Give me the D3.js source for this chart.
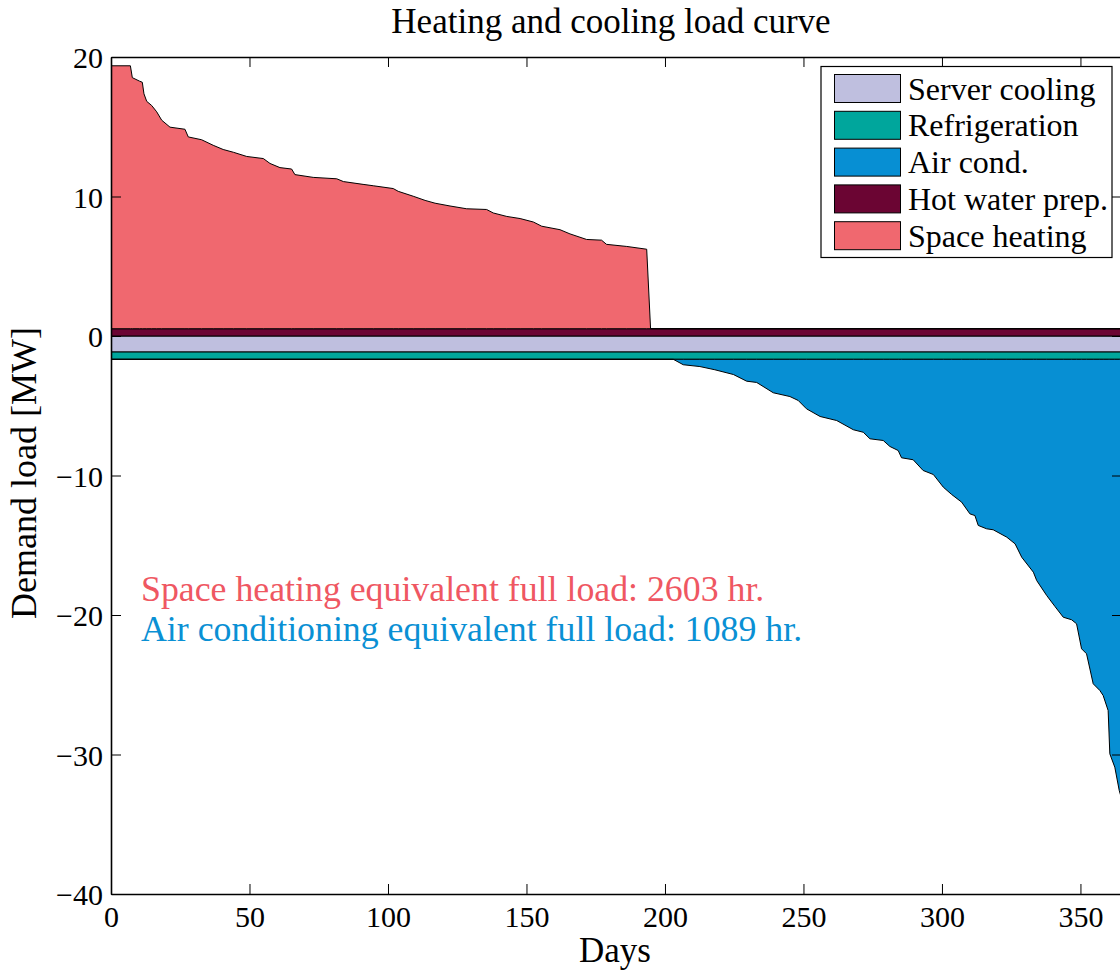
<!DOCTYPE html>
<html>
<head>
<meta charset="utf-8">
<script src="https://cdn.jsdelivr.net/npm/d3@7"></script>
<style>
  html, body { margin: 0; padding: 0; background: #fff; }
  svg { display: block; }
</style>
</head>
<body>
<svg id="chart" width="1120" height="973"></svg>
<script>
// ---- data -------------------------------------------------------------
// Constant loads [MW]
const hotWaterLoad = 0.52;
const serverCoolingLoad = 1.15;
const refrigerationLoad = 0.52;

// Space heating duration curve (sorted, days vs MW)
const heatDays = [0, 7, 7.7, 10.3, 11.3, 11.9, 12.9, 14.7, 16.5, 18.3, 21.3, 26.7, 27.9, 32.7, 36.9, 40.5, 44.2, 49, 55, 57.4, 61, 65.2, 66.4, 73, 81.5, 83.9, 91, 94.7, 101.9, 103.7, 109.1, 113.4, 117, 122.4, 128.4, 135.6, 138, 142.9, 147.7, 152.5, 155.5, 162.1, 165.7, 171.7, 177.1, 178.9, 186.2, 193.4, 194.8, 365];
const heatLoad = [18.85, 18.85, 18.0, 17.75, 17.67, 16.84, 16.3, 16.0, 15.55, 14.95, 14.45, 14.3, 13.75, 13.55, 13.15, 12.85, 12.65, 12.35, 12.2, 11.85, 11.55, 11.45, 11.05, 10.85, 10.75, 10.55, 10.35, 10.25, 10.05, 9.85, 9.5, 9.2, 9.0, 8.8, 8.6, 8.55, 8.3, 8.05, 7.9, 7.65, 7.35, 7.1, 6.8, 6.4, 6.35, 6.05, 5.9, 5.7, 0, 0];

// Air conditioning duration curve (days vs MW, drawn below zero)
const coolDays = [0, 203, 206.6, 212.6, 218, 224.7, 229.5, 233.1, 239.1, 245.1, 248.1, 251.1, 256, 262, 268, 271.6, 274, 278.8, 281.2, 284.2, 285.4, 289.6, 293.2, 296.9, 300.5, 303.5, 307.1, 310.1, 311.9, 313.1, 316.1, 318.5, 323.4, 326.4, 328.8, 333, 334.2, 337.8, 340.8, 343.8, 346.8, 348.6, 350.4, 352.2, 354.6, 357, 358.2, 360, 360.6, 362.4, 364, 365];
const coolLoad = [0, 0, 0.39, 0.52, 0.75, 1.09, 1.57, 1.66, 2.4, 2.67, 2.95, 3.55, 4.1, 4.39, 5.05, 5.23, 5.7, 5.82, 6.25, 6.54, 7.06, 7.2, 7.97, 8.26, 9.17, 9.69, 10.24, 11.08, 11.2, 11.91, 12.15, 12.22, 12.75, 13.23, 14.19, 15.26, 15.86, 16.93, 17.72, 18.49, 18.67, 18.96, 20.75, 21.11, 23.26, 23.74, 24.1, 25.18, 28.28, 29.24, 30.91, 31.6];

const xTicks = [0, 50, 100, 150, 200, 250, 300, 350];
const yTicks = [20, 10, 0, -10, -20, -30, -40];

const legendLabels = ["Server cooling", "Refrigeration", "Air cond.", "Hot water prep.", "Space heating"];
const legendColors = ["#bfbfdf", "#00a69c", "#078fd3", "#6b0533", "#f0686f"];

const annotations = [
  { text: "Space heating equivalent full load: 2603 hr.", color: "#ef5762" },
  { text: "Air conditioning equivalent full load: 1089 hr.", color: "#0a90d4" }
];

// ---- layout -----------------------------------------------------------
const FONT = "'Liberation Serif', 'Times New Roman', serif";
const plot = { left: 111, right: 1122, top: 57, bottom: 894 };
const svg = d3.select("#chart");

const x = d3.scaleLinear().domain([0, 365]).range([plot.left, plot.right]);
const y = d3.scaleLinear().domain([-40, 20]).range([plot.bottom, plot.top]);

svg.append("defs").append("clipPath").attr("id", "plotClip")
  .append("rect")
  .attr("x", plot.left).attr("y", plot.top)
  .attr("width", plot.right - plot.left).attr("height", plot.bottom - plot.top);

const g = svg.append("g").attr("clip-path", "url(#plotClip)");

const color = {
  server: legendColors[0], refrig: legendColors[1], air: legendColors[2],
  hotwater: legendColors[3], heating: legendColors[4]
};

function band(days, lo, hi) {
  return d3.area()
    .x((d, i) => x(days[i]))
    .y0((d, i) => y(lo(i)))
    .y1((d, i) => y(hi(i)))(days);
}

const span = [0, 365];
const coolBase = -(serverCoolingLoad + refrigerationLoad);

// Server cooling (0 .. -server)
g.append("path")
  .attr("d", band(span, () => 0, () => -serverCoolingLoad))
  .attr("fill", color.server).attr("stroke", "#000").attr("stroke-width", 1);

// Refrigeration (below server cooling)
g.append("path")
  .attr("d", band(span, () => -serverCoolingLoad, () => coolBase))
  .attr("fill", color.refrig).attr("stroke", "#000").attr("stroke-width", 1);

// Air conditioning (below refrigeration)
g.append("path")
  .attr("d", band(coolDays, () => coolBase, i => coolBase - coolLoad[i]))
  .attr("fill", color.air).attr("stroke", "#000").attr("stroke-width", 1);

// Hot water preparation (0 .. +hot water)
g.append("path")
  .attr("d", band(span, () => 0, () => hotWaterLoad))
  .attr("fill", color.hotwater).attr("stroke", "#000").attr("stroke-width", 1);

// Space heating (stacked on hot water)
g.append("path")
  .attr("d", band(heatDays, () => hotWaterLoad, i => hotWaterLoad + heatLoad[i]))
  .attr("fill", color.heating).attr("stroke", "#000").attr("stroke-width", 1);

// ---- axes (box with inward ticks) -------------------------------------
const tickLen = 10;
const axisG = svg.append("g");

axisG.append("g").attr("transform", `translate(0,${plot.bottom})`)
  .call(d3.axisBottom(x).tickValues(xTicks).tickSizeInner(-tickLen).tickSizeOuter(0).tickPadding(12));
axisG.append("g").attr("transform", `translate(0,${plot.top})`)
  .call(d3.axisTop(x).tickValues(xTicks).tickSizeInner(-tickLen).tickSizeOuter(0).tickFormat(""));
const yl = axisG.append("g").attr("transform", `translate(${plot.left},0)`)
  .call(d3.axisLeft(y).tickValues(yTicks).tickSizeInner(-tickLen).tickSizeOuter(0).tickPadding(8)
    .tickFormat(d => d < 0 ? "\u2212" + Math.abs(d) : String(d)));
axisG.append("g").attr("transform", `translate(${plot.right},0)`)
  .call(d3.axisRight(y).tickValues(yTicks).tickSizeInner(-tickLen).tickSizeOuter(0).tickFormat(""));

axisG.selectAll(".domain").attr("stroke", "#000").attr("stroke-width", 1.6);
axisG.selectAll(".tick line").attr("stroke", "#000").attr("stroke-width", 1);
axisG.selectAll(".tick text")
  .style("font-family", FONT)
  .style("font-size", "30px").style("fill", "#000");
yl.selectAll(".tick text").attr("dy", "0.35em");

// ---- titles -----------------------------------------------------------
svg.append("text")
  .attr("x", 611).attr("y", 33)
  .attr("text-anchor", "middle")
  .style("font-family", FONT).style("font-size", "35px")
  .text("Heating and cooling load curve");

svg.append("text")
  .attr("x", 615).attr("y", 962)
  .attr("text-anchor", "middle")
  .style("font-family", FONT).style("font-size", "35px")
  .text("Days");

svg.append("text")
  .attr("transform", "translate(36,473) rotate(-90)")
  .attr("text-anchor", "middle")
  .style("font-family", FONT).style("font-size", "36px")
  .text("Demand load [MW]");

// ---- annotations ------------------------------------------------------
svg.selectAll("text.note").data(annotations).enter().append("text")
  .attr("class", "note")
  .attr("x", 141).attr("y", (d, i) => 601 + i * 39.5)
  .style("font-family", FONT).style("font-size", "35.8px")
  .style("fill", d => d.color)
  .text(d => d.text);

// ---- legend -----------------------------------------------------------
const legend = svg.append("g");
legend.append("rect")
  .attr("x", 821).attr("y", 66.5).attr("width", 291).attr("height", 191)
  .attr("fill", "#fff").attr("stroke", "#000").attr("stroke-width", 1.2);

const rows = legend.selectAll("g.row").data(legendLabels).enter().append("g")
  .attr("class", "row")
  .attr("transform", (d, i) => `translate(0,${74.5 + i * 36.8})`);
rows.append("rect")
  .attr("x", 834.5).attr("y", 0).attr("width", 66).attr("height", 28)
  .attr("fill", (d, i) => legendColors[i]).attr("stroke", "#000").attr("stroke-width", 1);
rows.append("text")
  .attr("x", 908).attr("y", 25)
  .style("font-family", FONT).style("font-size", "32px")
  .text(d => d);
</script>
</body>
</html>
